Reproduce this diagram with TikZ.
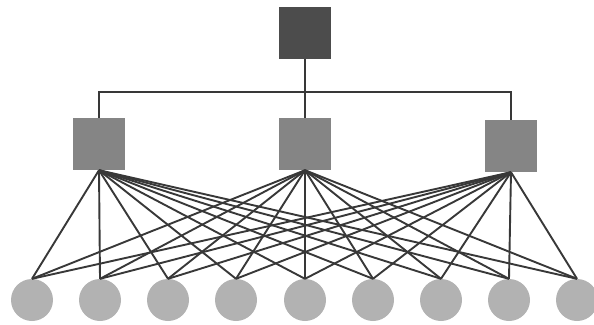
\documentclass[tikz,border=0pt]{standalone}
\begin{document}
\begin{tikzpicture}[x=1pt,y=-1pt,
  topbox/.style={draw=none,fill=black!70,minimum size=52pt,inner sep=0pt},
  midbox/.style={draw=none,fill=black!48,minimum size=52pt,inner sep=0pt},
  leaf/.style={circle,draw=none,fill=black!30,minimum size=42pt,inner sep=0pt},
  link/.style={draw=black!78,line width=1.9pt}]
\useasboundingbox (0,0) rectangle (594,324);
\node[topbox] (T) at (305,33) {};
\node[midbox] (A) at (99,144) {};
\node[midbox] (B) at (305,144) {};
\node[midbox] (C) at (511,146) {};
\coordinate (J) at (305,92);
\coordinate (JA) at (99,92);
\coordinate (JC) at (511,92);
\draw[link] (T.south) -- (J);
\draw[link] (A.north) -- (JA) -- (JC) -- (C.north);
\draw[link] (J) -- (B.north);
\foreach \i/\x in {1/32,2/100,3/168,4/236,5/305,6/373,7/441,8/509,9/577}{
  \node[leaf] (L\i) at (\x,300) {};
}
\foreach \m in {A,B,C}{
  \foreach \i in {1,...,9}{
    \draw[link] (\m.south) -- (L\i.north);
  }
}
\end{tikzpicture}
\end{document}
